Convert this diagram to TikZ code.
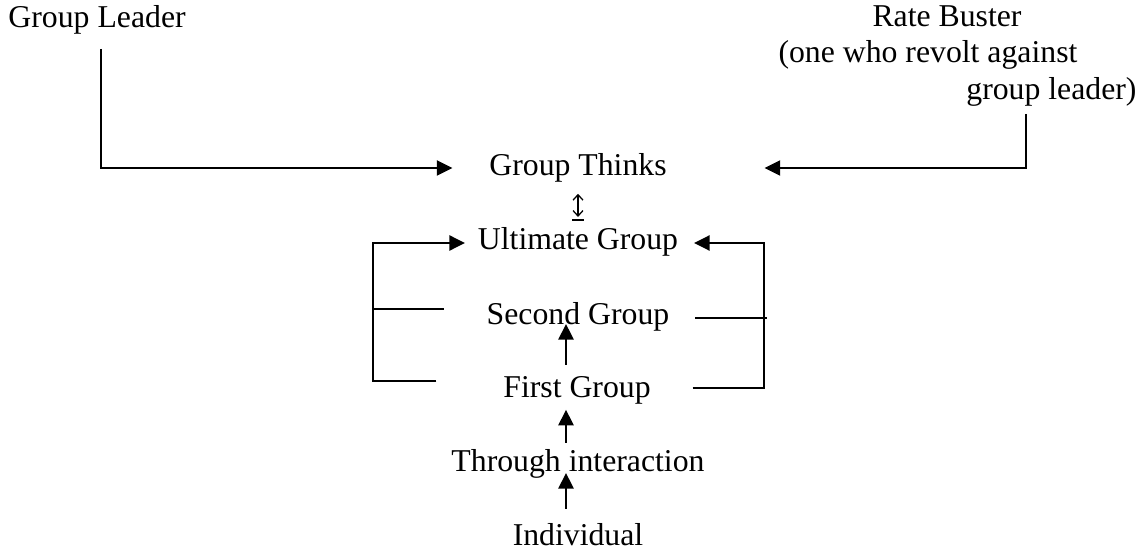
\documentclass[tikz,border=0pt]{standalone}
\usepackage{fontspec}
\setmainfont{Liberation Serif}
\usepackage{tikz}
\usetikzlibrary{calc,arrows.meta}

\begin{document}
\begin{tikzpicture}[x=0.4pt,y=-0.4pt,
        txtnode/.style={font=\fontsize{12.7}{15}\selectfont, inner sep=4.2pt},
        arrowline/.style={line width=0.9pt, -{Triangle[length=6.2pt,width=6pt]}},
        plainline/.style={line width=0.9pt},
        updown/.style={line width=0.5pt, {Straight Barb[length=2.2pt,width=4pt]}-{Straight Barb[length=2.2pt,width=4pt]}}
        ]
            \useasboundingbox (0,0) rectangle (1144,552);

            \node[txtnode, anchor=base west] (gl) at (-2.5,28) {Group Leader};
            \node[txtnode, anchor=base] (rate) at (947,27) {Rate Buster};
            \node[txtnode, anchor=base west] (rate2) at (767.5,63) {(one who revolt against};
            \node[txtnode, anchor=base east] (rate3) at (1147.5,100) {group leader)};
            \node[txtnode, anchor=base] (gt) at (578,176) {Group Thinks};
            \node[txtnode, anchor=base] (ug) at (578,249) {Ultimate Group};
            \node[txtnode, anchor=base] (sg) at (578,324) {Second Group};
            \node[txtnode, anchor=base] (fg) at (577,397) {First Group};
            \node[txtnode, anchor=base] (ti) at (578,471) {Through interaction};
            \node[txtnode, anchor=base] (ind) at (578,545) {Individual};

            \coordinate (lbend) at (101,168);
            \coordinate (rbend) at (1026,168);
            \coordinate (l1) at (373,243);
            \coordinate (l2) at (373,309);
            \coordinate (l3) at (373,381);
            \coordinate (r1) at (764,243);
            \coordinate (r2) at (764,318);
            \coordinate (r3) at (764,388);

            \draw[arrowline] ($(gl.south -| lbend)+(0,3)$) -- (lbend) -- ($(lbend -| gt.west)+(-26,0)$);
            \draw[arrowline] ($(rate3.south -| rbend)+(0,-4)$) -- (rbend) -- ($(rbend -| gt.east)+(87,0)$);

            \draw[updown] ($(gt.south)+(0,0)$) -- ($(ug.north)+(0,1)$);
            \draw[line width=0.5pt] ($(ug.north)+(-6,4)$) -- ($(ug.north)+(6,4)$);

            \draw[arrowline] ($(l3 -| fg.west)+(-56,0)$) -- (l3) -- (l1) -- ($(l1 -| ug.west)+(-2,0)$);
            \draw[plainline] ($(l2 -| sg.west)+(-32,0)$) -- (l2);
            \draw[arrowline] ($(r3 -| fg.east)+(31,0)$) -- (r3) -- (r1) -- ($(r1 -| ug.east)+(5,0)$);
            \draw[plainline] ($(r2 -| sg.east)+(15,0)$) -- ($(r2)+(3,0)$);

            \draw[arrowline] ($(fg.north)+(-11,0)$) -- ($(sg.base)+(-12,0)$);
            \draw[arrowline] ($(ti.north)+(-12,5)$) -- ($(fg.south)+(-11,-5)$);
            \draw[arrowline] ($(ind.north)+(-12,-3)$) -- ($(ti.base)+(-12,2)$);

        \end{tikzpicture}
\end{document}
